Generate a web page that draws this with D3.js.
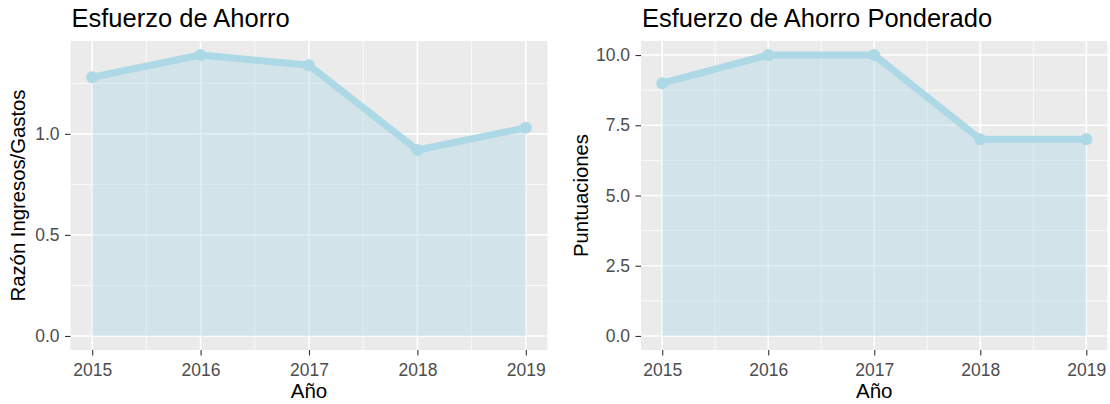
<!DOCTYPE html>
<html><head><meta charset="utf-8">
<script src="https://cdn.jsdelivr.net/npm/d3@7"></script>
<style>body{margin:0;background:#fff;}svg{display:block;font-family:"Liberation Sans",Arial,sans-serif;}</style>
</head><body>
<svg id="chart" width="1110" height="404"></svg>
<script>
const years = [2015, 2016, 2017, 2018, 2019];
const ratioValues = [1.28, 1.39, 1.34, 0.92, 1.03];
const scoreValues = [9, 10, 10, 7, 7];
const ratioTicks = [0.0, 0.5, 1.0];
const ratioMinor = [0.25, 0.75, 1.25];
const scoreTicks = [0, 2.5, 5, 7.5, 10];
const scoreMinor = [1.25, 3.75, 6.25, 8.75];
const yearMinor = [2015.5, 2016.5, 2017.5, 2018.5];
const titles = ["Esfuerzo de Ahorro", "Esfuerzo de Ahorro Ponderado"];
const yTitles = ["Razón Ingresos/Gastos", "Puntuaciones"];
const xTitle = "Año";

const svg = d3.select("#chart");

function panel(opts) {
  const {x0, x1, y0, y1, values, ticks, minor, title, yTitle, yTitleX} = opts;
  const g = svg.append("g");
  const ymax = d3.max(values), ymin = 0;
  const ex = (ymax - ymin) * 0.05;
  const x = d3.scaleLinear().domain([2015 - 0.2, 2019 + 0.2]).range([x0, x1]);
  const y = d3.scaleLinear().domain([ymin - ex, ymax + ex]).range([y1, y0]);

  g.append("rect").attr("x", x0).attr("y", y0).attr("width", x1 - x0).attr("height", y1 - y0).attr("fill", "#EBEBEB");
  minor.forEach(v => g.append("line").attr("x1", x0).attr("x2", x1).attr("y1", y(v)).attr("y2", y(v)).attr("stroke", "#fff").attr("stroke-width", 0.8));
  yearMinor.forEach(v => g.append("line").attr("y1", y0).attr("y2", y1).attr("x1", x(v)).attr("x2", x(v)).attr("stroke", "#fff").attr("stroke-width", 0.8));
  ticks.forEach(v => g.append("line").attr("x1", x0).attr("x2", x1).attr("y1", y(v)).attr("y2", y(v)).attr("stroke", "#fff").attr("stroke-width", 1.6));
  years.forEach(v => g.append("line").attr("y1", y0).attr("y2", y1).attr("x1", x(v)).attr("x2", x(v)).attr("stroke", "#fff").attr("stroke-width", 1.6));

  const data = years.map((yr, i) => ({yr, v: values[i]}));
  g.append("path").datum(data)
    .attr("d", d3.area().x(d => x(d.yr)).y0(y(0)).y1(d => y(d.v)))
    .attr("fill", "#ADD8E6").attr("fill-opacity", 0.4);
  g.append("path").datum(data)
    .attr("d", d3.line().x(d => x(d.yr)).y(d => y(d.v)))
    .attr("fill", "none").attr("stroke", "#ADD8E6").attr("stroke-width", 7).attr("stroke-linejoin", "round");
  g.selectAll("circle.pt").data(data).join("circle")
    .attr("cx", d => x(d.yr)).attr("cy", d => y(d.v)).attr("r", 6).attr("fill", "#ADD8E6");

  const yAxis = d3.axisLeft(y).tickValues(ticks).tickSize(5.5).tickPadding(5.5).tickFormat(d3.format(".1f"));
  const ya = g.append("g").attr("transform", `translate(${x0},0)`).call(yAxis);
  const xAxis = d3.axisBottom(x).tickValues(years).tickSize(5.5).tickPadding(8.5).tickFormat(d3.format("d"));
  const xa = g.append("g").attr("transform", `translate(0,${y1})`).call(xAxis);
  [ya, xa].forEach(a => {
    a.select(".domain").remove();
    a.selectAll(".tick line").attr("stroke", "#333333").attr("stroke-width", 1.1);
    a.selectAll(".tick text").attr("fill", "#4D4D4D").style("font-size", "17.5px").attr("font-family", "Liberation Sans, Arial, sans-serif");
  });
  xa.selectAll(".tick text").attr("dy", "0.71em");

  g.append("text").attr("x", x0 + 1).attr("y", 27).text(title)
    .attr("fill", "#000").style("font-size", "25.5px");
  g.append("text").attr("x", (x0 + x1) / 2).attr("y", 397.5).attr("text-anchor", "middle").text(xTitle)
    .attr("fill", "#000").style("font-size", "20.5px");
  g.append("text").attr("transform", `translate(${yTitleX},${(y0 + y1) / 2}) rotate(-90)`).attr("text-anchor", "middle").text(yTitle)
    .attr("fill", "#000").style("font-size", "20.3px");
}

panel({x0: 70.5, x1: 547.5, y0: 41, y1: 350, values: ratioValues, ticks: ratioTicks, minor: ratioMinor, title: titles[0], yTitle: yTitles[0], yTitleX: 25});
panel({x0: 641, x1: 1107.5, y0: 41, y1: 350, values: scoreValues, ticks: scoreTicks, minor: scoreMinor, title: titles[1], yTitle: yTitles[1], yTitleX: 588});
</script>
</body></html>
